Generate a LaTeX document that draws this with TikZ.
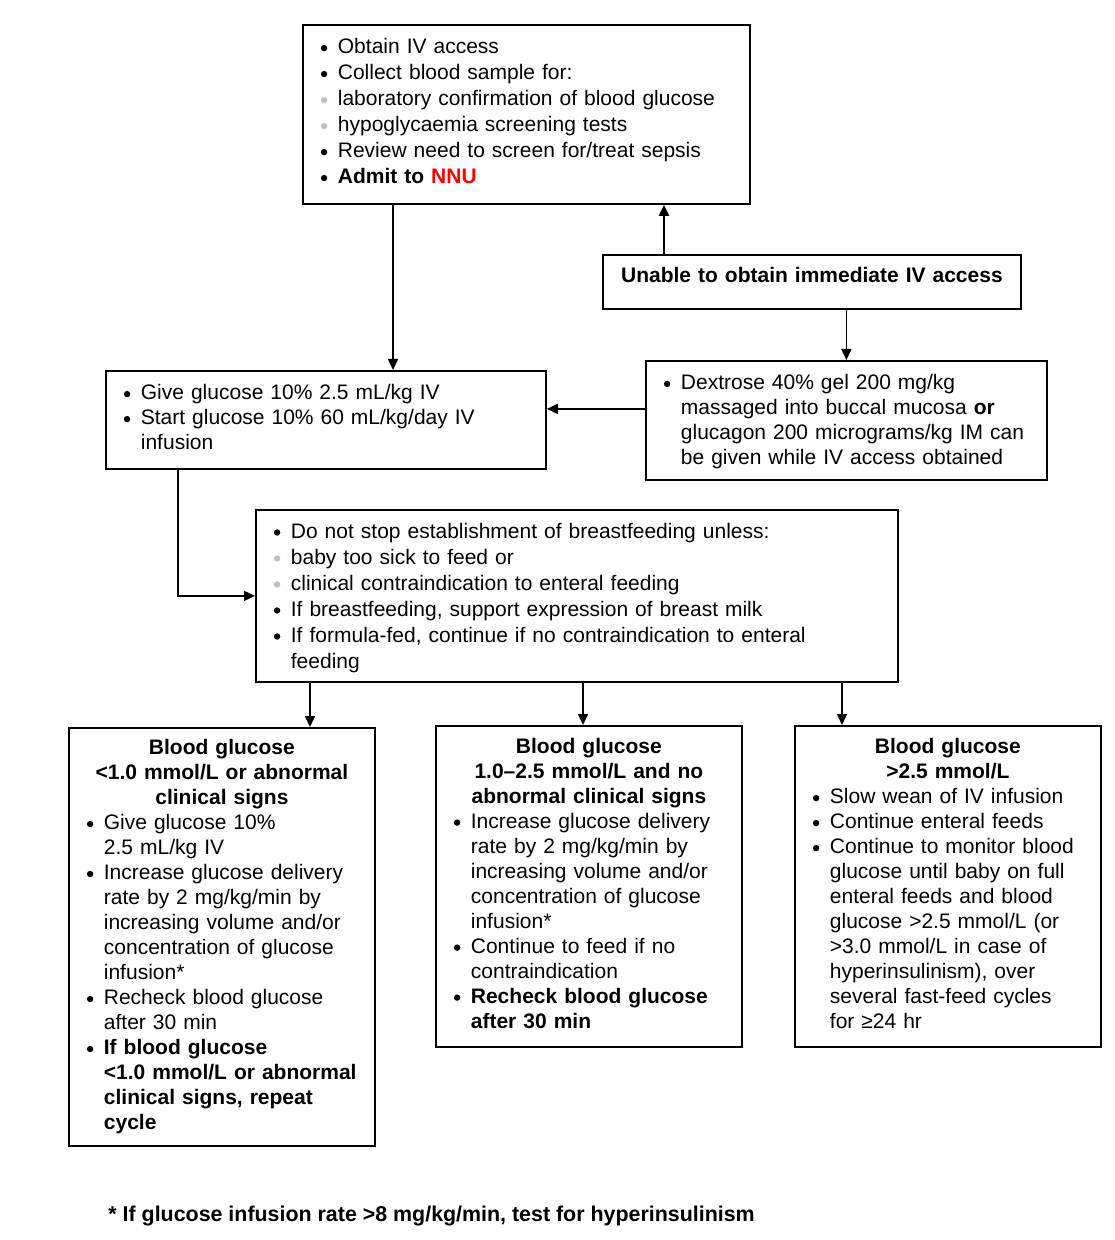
\documentclass[tikz,border=0pt]{standalone}
\usepackage{fontspec}
\setmainfont{Liberation Sans}
\usepackage{xcolor}
\usepackage{tikz}
\usetikzlibrary{arrows.meta}
\definecolor{cNNU}{HTML}{FF0000}
\definecolor{cSub}{HTML}{BFBFBF}
\newcommand{\dotmark}[1]{\tikz[baseline=-2.9pt]\fill[#1] (0,0) circle (1.6pt);}
\newcommand{\bul}{\hspace*{4pt}\makebox[8.5pt][l]{\dotmark{black}}}
\newcommand{\subbul}{\hspace*{4pt}\makebox[8.5pt][l]{\dotmark{cSub}}}
\newcommand{\ind}{\hspace*{12.5pt}}
\newcommand{\hd}[1]{\makebox[\linewidth]{\bfseries #1}}
\tikzset{
  box/.style={draw=black, line width=0.9pt, align=left, anchor=north west,
              inner xsep=5pt, inner ysep=0pt,
              font=\fontsize{10.5}{12.5}\selectfont},
  widebox/.style={box, font=\fontsize{10.5}{13}\selectfont},
  flow/.style={-{Triangle[length=5.5pt,width=5pt]}, line width=0.8pt, draw=black},
}

\begin{document}
\begin{tikzpicture}[x=0.5pt, y=-0.5pt]
  \useasboundingbox (0,0) rectangle (1114,1240);

  \node[widebox, text width=213.5pt, minimum height=89.5pt] (access) at (302,24)
    {\bul Obtain IV access\\
     \bul Collect blood sample for:\\
     \subbul laboratory confirmation of blood glucose\\
     \subbul hypoglycaemia screening tests\\
     \bul Review need to screen for/treat sepsis\\
     \bul\textbf{Admit to \textcolor{cNNU}{NNU}}\par\kern3pt};
  \node[box, align=center, text width=199pt, minimum height=27pt, text depth=7pt] (noiv) at (602,254)
    {\textbf{Unable to obtain immediate IV access}};
  \node[box, text width=210pt, minimum height=49pt] (bolus) at (105,370)
    {\bul Give glucose 10\% 2.5 mL/kg IV\\
     \bul Start glucose 10\% 60 mL/kg/day IV\\
     \ind infusion\par\kern2.5pt};
  \node[box, text width=190.5pt, minimum height=59.5pt] (gel) at (645,360)
    {\bul\rule{0pt}{9pt}Dextrose 40\% gel 200 mg/kg\\
     \ind massaged into buccal mucosa \textbf{or}\\
     \ind glucagon 200 micrograms/kg IM can\\
     \ind be given while IV access obtained};
  \node[widebox, text width=311pt, minimum height=86pt] (feed) at (255,509)
    {\bul\rule{0pt}{9.6pt}Do not stop establishment of breastfeeding unless:\\
     \subbul baby too sick to feed or\\
     \subbul clinical contraindication to enteral feeding\\
     \bul If breastfeeding, support expression of breast milk\\
     \bul If formula-fed, continue if no contraindication to enteral\\
     \ind feeding};

  % three blood glucose bands
  \node[box, text width=143pt, minimum height=209pt] (low) at (68,727)
    {\hd{Blood glucose}\\
     \hd{<1.0 mmol/L or abnormal}\\
     \hd{clinical signs}\\
     \bul Give glucose 10\%\\
     \ind 2.5 mL/kg IV\\
     \bul Increase glucose delivery\\
     \ind rate by 2 mg/kg/min by\\
     \ind increasing volume and/or\\
     \ind concentration of glucose\\
     \ind infusion*\\
     \bul Recheck blood glucose\\
     \ind after 30 min\\
     \bul\textbf{If blood glucose}\\
     \ind\textbf{<1.0 mmol/L or abnormal}\\
     \ind\textbf{clinical signs, repeat}\\
     \ind\textbf{cycle}};
  \node[box, text width=143pt, minimum height=160.5pt] (mid) at (435,725)
    {\hd{Blood glucose}\\
     \hd{1.0–2.5 mmol/L and no}\\
     \hd{abnormal clinical signs}\\
     \bul Increase glucose delivery\\
     \ind rate by 2 mg/kg/min by\\
     \ind increasing volume and/or\\
     \ind concentration of glucose\\
     \ind infusion*\\
     \bul Continue to feed if no\\
     \ind contraindication\\
     \bul\textbf{Recheck blood glucose}\\
     \ind\textbf{after 30 min}\par\kern3pt};
  \node[box, text width=143pt, minimum height=160.5pt] (high) at (794,725)
    {\hd{Blood glucose}\\
     \hd{>2.5 mmol/L}\\
     \bul Slow wean of IV infusion\\
     \bul Continue enteral feeds\\
     \bul Continue to monitor blood\\
     \ind glucose until baby on full\\
     \ind enteral feeds and blood\\
     \ind glucose >2.5 mmol/L (or\\
     \ind >3.0 mmol/L in case of\\
     \ind hyperinsulinism), over\\
     \ind several fast-feed cycles\\
     \ind for ≥24 hr\par\kern2.5pt};

  \node[anchor=base west, inner sep=0pt, font=\fontsize{10.7}{12.5}\selectfont\bfseries] (note) at (108,1221)
    {* If glucose infusion rate >8 mg/kg/min, test for hyperinsulinism};

  \coordinate (accessOut) at ([xshift=45.5pt]access.south west);
  \coordinate (noivOut) at ([xshift=31pt]noiv.north west);
  \coordinate (gelOut) at ([yshift=5.75pt]gel.west);
  \coordinate (bolusOut) at ([xshift=36.5pt]bolus.south west);
  \coordinate (lowIn) at ([xshift=121pt]low.north west);
  \coordinate (midIn) at ([xshift=74pt]mid.north west);
  \coordinate (highIn) at ([xshift=24pt]high.north west);

  \draw[flow] (accessOut) -- (accessOut |- bolus.north);
  \draw[flow] (noivOut) -- (noivOut |- access.south);
  \draw[flow] (noiv.south -| gel.north) -- (gel.north);
  \draw[flow] (gelOut) -- (gelOut -| bolus.east);
  \draw[flow] (bolusOut) |- (feed.west);
  \draw[flow] (lowIn |- feed.south) -- (lowIn);
  \draw[flow] (midIn |- feed.south) -- (midIn);
  \draw[flow] (highIn |- feed.south) -- (highIn);
\end{tikzpicture}
\end{document}
